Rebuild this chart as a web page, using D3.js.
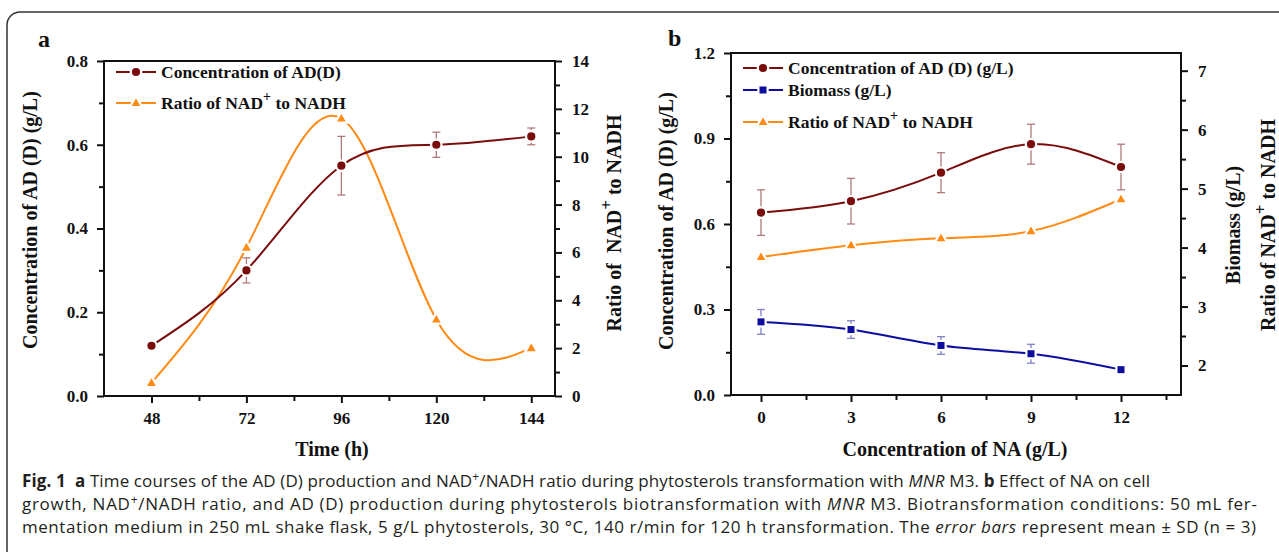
<!DOCTYPE html>
<html><head><meta charset="utf-8">
<script src="https://cdn.jsdelivr.net/npm/d3@7"></script>
<style>
html,body{margin:0;padding:0;background:#fff;}
svg{display:block;}
.ser{font-family:"Liberation Serif","Times New Roman",serif;font-weight:bold;fill:#111;}
.cap{font-family:"Open Sans","Noto Sans",sans-serif;fill:#231f20;}
</style></head>
<body>
<svg id="c" width="1279" height="552"></svg>
<script>
// ---------- Data ----------
// Panel a
const timeA = [48, 72, 96, 120, 144];
const adA = [0.12, 0.30, 0.55, 0.60, 0.62];
const adAErr = [0.01, 0.03, 0.07, 0.03, 0.02];
const ratioA = [0.55, 6.2, 11.6, 3.2, 2.0];
const aXTicks = [48, 72, 96, 120, 144];
const aXMinor = [60, 84, 108, 132];
const aLeftTicks = [0, 0.2, 0.4, 0.6, 0.8];
const aLeftMinor = [0.1, 0.3, 0.5, 0.7];
const aRightTicks = [0, 2, 4, 6, 8, 10, 12, 14];
const aRightMinor = [1, 3, 5, 7, 9, 11, 13];
// Panel b
const naB = [0, 3, 6, 9, 12];
const adB = [0.64, 0.68, 0.78, 0.88, 0.80];
const adBErr = [0.08, 0.08, 0.07, 0.07, 0.08];
const biomassB = [2.74, 2.61, 2.34, 2.20, 1.93];
const biomassBErr = [0.21, 0.15, 0.15, 0.16, 0];
const ratioB = [3.84, 4.04, 4.16, 4.28, 4.82];
const bXTicks = [0, 3, 6, 9, 12];
const bXMinor = [1.5, 4.5, 7.5, 10.5, 13.5];
const bLeftTicks = [0, 0.3, 0.6, 0.9, 1.2];
const bLeftMinor = [0.15, 0.45, 0.75, 1.05];
const bRightTicks = [2, 3, 4, 5, 6, 7];
const bRightMinor = [2.5, 3.5, 4.5, 5.5, 6.5];

const C_AD = "#7a0c0c", C_AD_ERR = "#b07a7a";
const C_OR = "#ff8a14";
const C_BL = "#0d0da0", C_BL_ERR = "#8080c8";

const svg = d3.select("#c");

// outer frame
svg.append("rect").attr("x", 7).attr("y", 12).attr("width", 1300).attr("height", 600)
  .attr("rx", 13).attr("fill", "none").attr("stroke", "#333").attr("stroke-width", 1.5);

function styleAxis(g) {
  g.select(".domain").remove();
  g.selectAll(".tick line").attr("stroke", "#111").attr("stroke-width", 2);
  g.selectAll(".tick text").attr("class", "ser").style("font-size", "17px").attr("fill", "#111");
}

function panel(cfg) {
  const g = svg.append("g");
  const x = d3.scaleLinear().domain(cfg.xDomain).range([cfg.L, cfg.R]);
  const yl = d3.scaleLinear().domain(cfg.ylDomain).range([cfg.B, cfg.T]);
  const yr = d3.scaleLinear().domain(cfg.yrDomain).range([cfg.B, cfg.T]);

  const fmtL = d3.format(".1f");
  g.append("g").attr("transform", `translate(0,${cfg.B})`)
    .call(d3.axisBottom(x).tickValues(cfg.xMinor).tickSize(5).tickFormat(""))
    .call(styleAxis);
  g.append("g").attr("transform", `translate(0,${cfg.B})`)
    .call(d3.axisBottom(x).tickValues(cfg.xTicks).tickSize(7).tickPadding(9).tickFormat(d3.format("d")))
    .call(styleAxis);
  g.append("g").attr("transform", `translate(${cfg.L},0)`)
    .call(d3.axisLeft(yl).tickValues(cfg.ylMinor).tickSize(5).tickFormat(""))
    .call(styleAxis);
  g.append("g").attr("transform", `translate(${cfg.L},0)`)
    .call(d3.axisLeft(yl).tickValues(cfg.ylTicks).tickSize(7).tickPadding(9).tickFormat(fmtL))
    .call(styleAxis);
  g.append("g").attr("transform", `translate(${cfg.R},0)`)
    .call(d3.axisRight(yr).tickValues(cfg.yrMinor).tickSize(5).tickFormat(""))
    .call(styleAxis);
  g.append("g").attr("transform", `translate(${cfg.R},0)`)
    .call(d3.axisRight(yr).tickValues(cfg.yrTicks).tickSize(7).tickPadding(10).tickFormat(d3.format("d")))
    .call(styleAxis);
  g.append("rect").attr("x", cfg.L).attr("y", cfg.T).attr("width", cfg.R - cfg.L).attr("height", cfg.B - cfg.T)
    .attr("fill", "none").attr("stroke", "#111").attr("stroke-width", 2);

  cfg.series.forEach(s => {
    const ys = s.axis === "left" ? yl : yr;
    const pts = s.x.map((d, i) => [d, s.y[i]]);
    if (s.err) {
      s.x.forEach((d, i) => {
        if (!s.err[i]) return;
        const cx = x(d), y1 = ys(s.y[i] - s.err[i]), y2 = ys(s.y[i] + s.err[i]);
        g.append("line").attr("x1", cx).attr("x2", cx).attr("y1", y1).attr("y2", y2).attr("stroke", s.errColor).attr("stroke-width", 1.3);
        g.append("line").attr("x1", cx - 4).attr("x2", cx + 4).attr("y1", y1).attr("y2", y1).attr("stroke", s.errColor).attr("stroke-width", 1.3);
        g.append("line").attr("x1", cx - 4).attr("x2", cx + 4).attr("y1", y2).attr("y2", y2).attr("stroke", s.errColor).attr("stroke-width", 1.3);
      });
    }
    g.append("path").datum(pts)
      .attr("d", d3.line().x(d => x(d[0])).y(d => ys(d[1])).curve(d3.curveNatural))
      .attr("fill", "none").attr("stroke", s.color).attr("stroke-width", 2);
    pts.forEach(p => drawMarker(g, s.shape, x(p[0]), ys(p[1]), s.color, true));
  });

  cfg.legend.forEach((l, i) => {
    const ly = cfg.legY[i];
    g.append("line").attr("x1", cfg.legX).attr("x2", cfg.legX + 40).attr("y1", ly).attr("y2", ly)
      .attr("stroke", l.color).attr("stroke-width", 2);
    drawMarker(g, l.shape, cfg.legX + 20, ly, l.color, true);
    const t = g.append("text").attr("class", "ser").attr("x", cfg.legX + 45).attr("y", ly + 6).style("font-size", "17.5px");
    l.text.forEach(part => {
      if (part.sup) t.append("tspan").attr("dy", -8).style("font-size", "14px").text(part.t);
      else if (part.after) t.append("tspan").attr("dy", 8).text(part.t);
      else t.append("tspan").text(part.t);
    });
  });
  return {x, yl, yr};
}

function drawMarker(g, shape, cx, cy, color, halo) {
  const sw = halo ? 2.2 : 0;
  if (shape === "circle") {
    g.append("circle").attr("cx", cx).attr("cy", cy).attr("r", 5.2).attr("fill", color).attr("stroke", "#fff").attr("stroke-width", sw);
  } else if (shape === "square") {
    g.append("rect").attr("x", cx - 4.6).attr("y", cy - 4.6).attr("width", 9.2).attr("height", 9.2).attr("fill", color).attr("stroke", "#fff").attr("stroke-width", sw);
  } else {
    const h = 11, w = 12.5;
    g.append("path").attr("d", `M${cx},${cy - h * 0.62}L${cx + w / 2},${cy + h * 0.38}L${cx - w / 2},${cy + h * 0.38}Z`)
      .attr("fill", color).attr("stroke", "#fff").attr("stroke-width", sw);
  }
}

// Panel a
panel({
  L: 104, R: 555, T: 61, B: 396,
  xDomain: [36, 150], ylDomain: [0, 0.8], yrDomain: [0, 14],
  xTicks: aXTicks, xMinor: aXMinor, ylTicks: aLeftTicks, ylMinor: aLeftMinor,
  yrTicks: aRightTicks, yrMinor: aRightMinor,
  series: [
    {x: timeA, y: ratioA, axis: "right", color: C_OR, shape: "triangle"},
    {x: timeA, y: adA, err: adAErr, errColor: C_AD_ERR, axis: "left", color: C_AD, shape: "circle"}
  ],
  legX: 116, legY: [72, 103],
  legend: [
    {color: C_AD, shape: "circle", text: [{t: "Concentration of AD(D)"}]},
    {color: C_OR, shape: "triangle", text: [{t: "Ratio of NAD"}, {t: "+", sup: true}, {t: " to NADH", after: true}]}
  ]
});

// Panel b
panel({
  L: 731, R: 1181, T: 53, B: 395,
  xDomain: [-1, 14], ylDomain: [0, 1.2], yrDomain: [1.5, 7.3],
  xTicks: bXTicks, xMinor: bXMinor, ylTicks: bLeftTicks, ylMinor: bLeftMinor,
  yrTicks: bRightTicks, yrMinor: bRightMinor,
  series: [
    {x: naB, y: ratioB, axis: "right", color: C_OR, shape: "triangle"},
    {x: naB, y: biomassB, err: biomassBErr, errColor: C_BL_ERR, axis: "right", color: C_BL, shape: "square"},
    {x: naB, y: adB, err: adBErr, errColor: C_AD_ERR, axis: "left", color: C_AD, shape: "circle"}
  ],
  legX: 743, legY: [68, 90, 122],
  legend: [
    {color: C_AD, shape: "circle", text: [{t: "Concentration of AD (D) (g/L)"}]},
    {color: C_BL, shape: "square", text: [{t: "Biomass (g/L)"}]},
    {color: C_OR, shape: "triangle", text: [{t: "Ratio of NAD"}, {t: "+", sup: true}, {t: " to NADH", after: true}]}
  ]
});

// panel letters
svg.append("text").attr("class", "ser").attr("x", 38).attr("y", 47).style("font-size", "24px").text("a");
svg.append("text").attr("class", "ser").attr("x", 668).attr("y", 46).style("font-size", "24px").text("b");

// axis titles
function vTitle(x, y, parts, size) {
  const t = svg.append("text").attr("class", "ser").attr("text-anchor", "middle")
    .attr("transform", `translate(${x},${y}) rotate(-90)`).style("font-size", size + "px");
  parts.forEach(p => {
    if (p.sup) t.append("tspan").attr("dy", -9).style("font-size", (size - 3) + "px").text(p.t);
    else if (p.after) t.append("tspan").attr("dy", 9).text(p.t);
    else t.append("tspan").text(p.t);
  });
}
vTitle(37, 220, [{t: "Concentration of AD (D) (g/L)"}], 20);
vTitle(621, 223, [{t: "Ratio of\u00a0 NAD"}, {t: "+", sup: true}, {t: " to NADH", after: true}], 20);
vTitle(673, 221, [{t: "Concentration of AD (D) (g/L)"}], 20);
vTitle(1240, 225, [{t: "Biomass (g/L)"}], 20);
vTitle(1275, 225, [{t: "Ratio of NAD"}, {t: "+", sup: true}, {t: " to NADH", after: true}], 20);

svg.append("text").attr("class", "ser").attr("text-anchor", "middle").attr("x", 332).attr("y", 456).style("font-size", "20px").text("Time (h)");
svg.append("text").attr("class", "ser").attr("text-anchor", "middle").attr("x", 955).attr("y", 456).style("font-size", "20px").text("Concentration of NA (g/L)");

// caption
const capLines = [
  {y: 487, w: 1128, parts: [{t: "Fig. 1", b: 1}, {t: "\u00a0\u00a0"}, {t: "a", b: 1}, {t: " Time courses of the AD (D) production and NAD"}, {t: "+", sup: 1}, {t: "/NADH ratio during phytosterols transformation with ", after: 1}, {t: "MNR", i: 1}, {t: " M3. "}, {t: "b", b: 1}, {t: " Effect of NA on cell"}]},
  {y: 510, w: 1235, parts: [{t: "growth, NAD"}, {t: "+", sup: 1}, {t: "/NADH ratio, and AD (D) production during phytosterols biotransformation with ", after: 1}, {t: "MNR", i: 1}, {t: " M3. Biotransformation conditions: 50 mL fer-"}]},
  {y: 533, w: 1234, parts: [{t: "mentation medium in 250 mL shake flask, 5 g/L phytosterols, 30 °C, 140 r/min for 120 h transformation. The "}, {t: "error bars", i: 1}, {t: " represent mean ± SD (n = 3)"}]}
];
capLines.forEach(l => {
  const t = svg.append("text").attr("class", "cap").attr("x", 22).attr("y", l.y)
    .style("font-size", "17px")
    .attr("textLength", l.w).attr("lengthAdjust", "spacing");
  l.parts.forEach(p => {
    const s = t.append("tspan").text(p.t);
    if (p.b) s.style("font-weight", "bold");
    if (p.i) s.style("font-style", "italic");
    if (p.sup) s.attr("dy", -6).style("font-size", "12px");
    if (p.after) s.attr("dy", 6);
  });
});
</script>
</body></html>
